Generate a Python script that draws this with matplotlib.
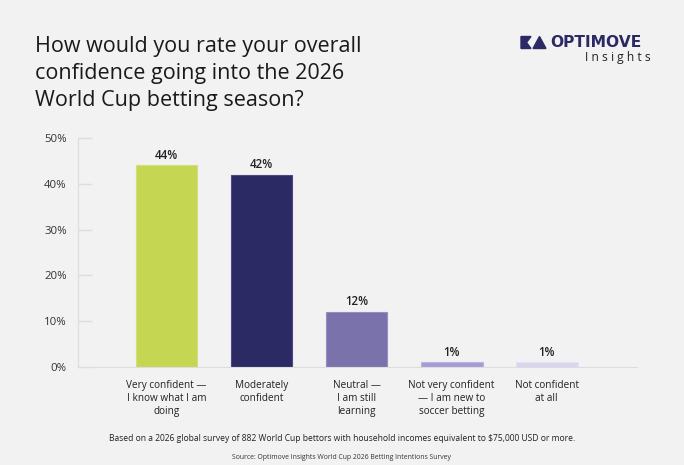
import matplotlib
matplotlib.use("Agg")
import matplotlib.pyplot as plt
from matplotlib.patches import Polygon

categories = ["Very confident —\nI know what I am\ndoing", "Moderately\nconfident",
              "Neutral —\nI am still\nlearning", "Not very confident\n— I am new to\nsoccer betting",
              "Not confident\nat all"]
values = [44, 42, 12, 1, 1]
colors = ["#c5d752", "#2c2a64", "#7a72aa", "#a39dd5", "#d8d5ee"]
edge_colors = ["#d3e07a", "#4b4985", "#958dc3", "#b9b4e2", "#e4e2f4"]
yticks = [0, 10, 20, 30, 40, 50]

BG = "#f2f2f2"
fig = plt.figure(figsize=(6.84, 4.65), dpi=100, facecolor=BG)
ax = fig.add_axes([78/684, 1-367/465, (637-78)/684, (367-138)/465])
ax.set_facecolor(BG)
fam = ["Open Sans", "DejaVu Sans"]

x = list(range(len(values)))
ax.bar(x, values, width=0.65, color=colors, edgecolor=edge_colors, linewidth=0.8)
for xi, v in zip(x, values):
    ax.text(xi, v + 0.8, f"{v}%", ha="center", va="bottom", fontsize=8.3, color="#222222",
            family=fam, fontweight="semibold")

ax.set_xlim(-0.93, 4.95)
ax.set_ylim(0, 50)
ax.set_yticks(yticks)
ax.set_yticklabels([f"{t}%" for t in yticks], fontsize=8.2, color="#333333", family=fam)
ax.set_xticks(x)
ax.set_xticklabels(categories, fontsize=7.2, color="#222222", family=fam, linespacing=1.25)
ax.tick_params(axis="y", direction="in", length=10, color="#dddddd", width=1, pad=8)
ax.tick_params(axis="x", length=0, pad=9)
for s in ["top", "right"]:
    ax.spines[s].set_visible(False)
ax.spines["left"].set_color("#dddddd")
ax.spines["bottom"].set_color("#dddddd")

fig.text(35/684, 1-36/465, "How would you rate your overall\nconfidence going into the 2026\nWorld Cup betting season?",
         fontsize=15.5, color="#1a1a1a", family=fam,
         ha="left", va="top", linespacing=1.38)

# logo
navy = "#2c2a64"
W, H = 684, 465
def P(pts):
    return [(px/W, 1-py/H) for px, py in pts]
fig.patches.append(Polygon(P([(521, 36.5), (531, 36.5), (526.5, 42.5), (531, 48.5), (521, 48.5)]),
                           closed=True, transform=fig.transFigure, color=navy))
fig.patches.append(Polygon(P([(533, 48.5), (539.5, 36.5), (546, 48.5)]), closed=True,
                           transform=fig.transFigure, color=navy))
fig.text(550/684, 1-42.5/465, "OPTIMOVE", fontsize=11.2, fontweight="bold", color=navy,
         family=["DejaVu Sans"], ha="left", va="center")
fig.text(651/684, 1-58/465, "I n s i g h t s", fontsize=8.7, color="#222222", family=fam, ha="right", va="center")

fig.text(0.5, 1-438/465, "Based on a 2026 global survey of 882 World Cup bettors with household incomes equivalent to $75,000 USD or more.",
         fontsize=6.15, color="#222222", family=fam, ha="center", va="center")
fig.text(0.5, 1-457/465, "Source: Optimove Insights World Cup 2026 Betting Intentions Survey",
         fontsize=4.95, color="#333333", family=fam, ha="center", va="center")

fig.savefig("out.png", dpi=100, facecolor=BG)
